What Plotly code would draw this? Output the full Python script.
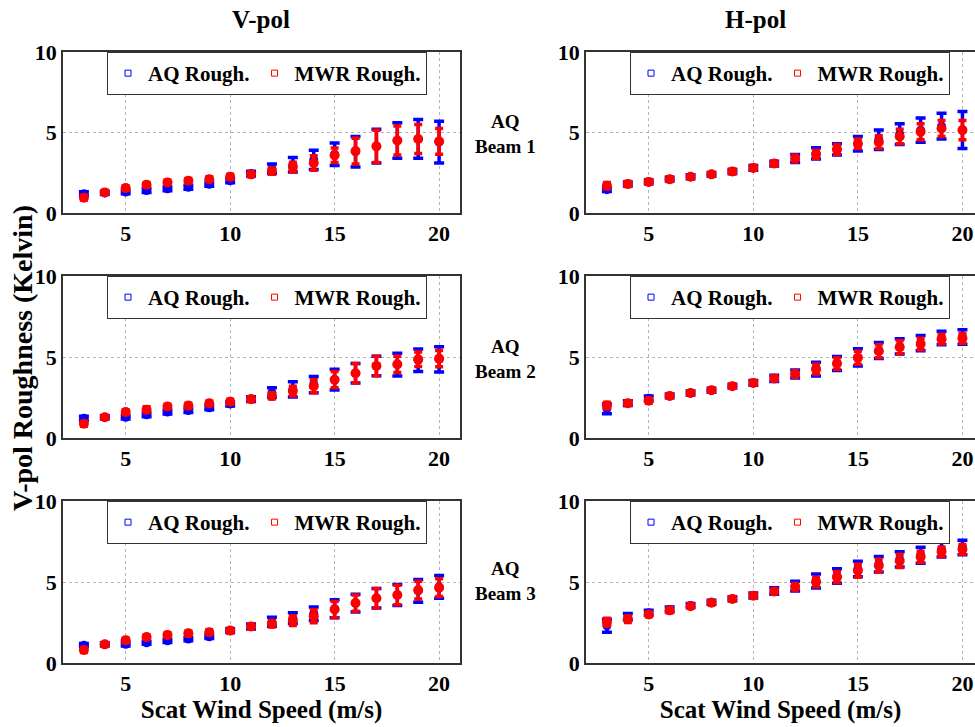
import plotly.graph_objects as go

# ---------------- data ----------------
wind_speed = [3, 4, 5, 6, 7, 8, 9, 10, 11, 12, 13, 14, 15, 16, 17, 18, 19, 20]

# V-pol, AQ Beam 1
v1_aq = [1.2, 1.25, 1.3, 1.4, 1.5, 1.6, 1.78, 2.0, 2.45, 2.75, 3.0, 3.3, 3.65, 3.8, 4.15, 4.5, 4.6, 4.4]
v1_aq_err = [0.12, 0.1, 0.1, 0.12, 0.12, 0.12, 0.12, 0.12, 0.15, 0.3, 0.45, 0.6, 0.7, 0.95, 1.05, 1.1, 1.2, 1.3]
v1_mwr = [0.95, 1.28, 1.55, 1.75, 1.9, 2.0, 2.1, 2.25, 2.4, 2.6, 2.85, 3.1, 3.58, 3.85, 4.14, 4.5, 4.6, 4.45]
v1_mwr_err = [0.15, 0.12, 0.15, 0.15, 0.15, 0.15, 0.15, 0.15, 0.15, 0.2, 0.3, 0.45, 0.45, 0.8, 1.0, 0.9, 0.9, 0.8]

# H-pol, AQ Beam 1
h1_aq = [1.45, 1.8, 1.93, 2.1, 2.25, 2.4, 2.58, 2.8, 3.07, 3.38, 3.7, 3.95, 4.3, 4.55, 4.9, 5.15, 5.4, 5.15]
h1_aq_err = [0.12, 0.12, 0.12, 0.12, 0.12, 0.12, 0.12, 0.15, 0.15, 0.25, 0.35, 0.35, 0.45, 0.6, 0.65, 0.75, 0.8, 1.15]
h1_mwr = [1.7, 1.8, 1.93, 2.1, 2.25, 2.4, 2.58, 2.8, 3.07, 3.38, 3.65, 3.95, 4.3, 4.4, 4.75, 5.05, 5.25, 5.15]
h1_mwr_err = [0.2, 0.15, 0.15, 0.15, 0.12, 0.12, 0.15, 0.15, 0.15, 0.2, 0.25, 0.3, 0.3, 0.4, 0.45, 0.5, 0.5, 0.6]

# V-pol, AQ Beam 2
v2_aq = [1.22, 1.28, 1.28, 1.43, 1.6, 1.7, 1.86, 2.1, 2.4, 2.8, 3.0, 3.3, 3.6, 4.0, 4.45, 4.53, 4.8, 4.85]
v2_aq_err = [0.12, 0.1, 0.1, 0.12, 0.12, 0.12, 0.12, 0.12, 0.15, 0.3, 0.47, 0.5, 0.64, 0.6, 0.6, 0.7, 0.7, 0.78]
v2_mwr = [0.88, 1.28, 1.6, 1.75, 1.94, 2.0, 2.14, 2.24, 2.4, 2.6, 2.9, 3.2, 3.6, 4.0, 4.45, 4.55, 4.86, 4.9]
v2_mwr_err = [0.15, 0.12, 0.15, 0.18, 0.15, 0.15, 0.15, 0.15, 0.15, 0.2, 0.3, 0.4, 0.5, 0.6, 0.6, 0.5, 0.45, 0.5]

# H-pol, AQ Beam 2
h2_aq = [1.8, 2.15, 2.45, 2.6, 2.78, 2.95, 3.2, 3.4, 3.68, 3.95, 4.25, 4.6, 4.98, 5.4, 5.66, 5.86, 6.17, 6.23]
h2_aq_err = [0.3, 0.15, 0.15, 0.12, 0.12, 0.12, 0.12, 0.15, 0.2, 0.25, 0.43, 0.43, 0.53, 0.5, 0.47, 0.47, 0.42, 0.45]
h2_mwr = [2.0, 2.15, 2.3, 2.6, 2.78, 2.95, 3.2, 3.4, 3.68, 3.95, 4.25, 4.6, 4.95, 5.35, 5.6, 5.8, 6.1, 6.15]
h2_mwr_err = [0.2, 0.15, 0.15, 0.12, 0.12, 0.12, 0.12, 0.15, 0.15, 0.2, 0.3, 0.35, 0.4, 0.4, 0.4, 0.35, 0.3, 0.3]

# V-pol, AQ Beam 3
v3_aq = [1.1, 1.15, 1.15, 1.25, 1.37, 1.48, 1.62, 2.0, 2.25, 2.55, 2.77, 3.04, 3.35, 3.7, 4.0, 4.2, 4.45, 4.7]
v3_aq_err = [0.1, 0.1, 0.1, 0.1, 0.1, 0.1, 0.1, 0.12, 0.15, 0.28, 0.33, 0.42, 0.55, 0.55, 0.6, 0.65, 0.7, 0.7]
v3_mwr = [0.8, 1.15, 1.4, 1.6, 1.73, 1.83, 1.9, 2.0, 2.25, 2.42, 2.62, 2.88, 3.3, 3.7, 4.0, 4.2, 4.5, 4.65]
v3_mwr_err = [0.15, 0.12, 0.15, 0.15, 0.15, 0.15, 0.15, 0.15, 0.15, 0.2, 0.3, 0.4, 0.5, 0.5, 0.6, 0.6, 0.55, 0.55]

# H-pol, AQ Beam 3
h3_aq = [2.3, 2.85, 3.1, 3.3, 3.55, 3.75, 3.97, 4.17, 4.44, 4.75, 5.06, 5.37, 5.8, 6.1, 6.4, 6.65, 7.0, 7.13]
h3_aq_err = [0.4, 0.2, 0.15, 0.15, 0.12, 0.12, 0.12, 0.15, 0.2, 0.3, 0.43, 0.45, 0.48, 0.48, 0.47, 0.5, 0.45, 0.45]
h3_mwr = [2.52, 2.7, 3.0, 3.25, 3.5, 3.72, 3.95, 4.15, 4.42, 4.7, 5.0, 5.3, 5.7, 6.0, 6.3, 6.55, 6.86, 7.02]
h3_mwr_err = [0.25, 0.2, 0.15, 0.15, 0.12, 0.12, 0.12, 0.15, 0.15, 0.2, 0.3, 0.35, 0.4, 0.4, 0.4, 0.35, 0.3, 0.3]

x_ticks = [5, 10, 15, 20]
y_ticks = [0, 5, 10]
series_names = ["AQ Rough.", "MWR Rough."]
column_titles = ["V-pol", "H-pol"]
row_labels = ["AQ<br>Beam 1", "AQ<br>Beam 2", "AQ<br>Beam 3"]
x_title = "Scat Wind Speed (m/s)"
y_title = "V-pol Roughness (Kelvin)"

# ---------------- layout geometry ----------------
W, H = 975, 727
FONT = "Liberation Serif, Times New Roman, serif"
BLUE = "#0000ff"
RED = "#ff0000"


def px_x(p):
    return p / W


def px_y(p):
    return 1 - p / H


rows_px = [(52, 213), (276, 438), (501, 663)]
cols_px = [(63, 460), (586, 975)]
x_ranges = [[2, 21], [2, 20.6]]

panels = [
    (0, 0, v1_aq, v1_aq_err, v1_mwr, v1_mwr_err),
    (0, 1, h1_aq, h1_aq_err, h1_mwr, h1_mwr_err),
    (1, 0, v2_aq, v2_aq_err, v2_mwr, v2_mwr_err),
    (1, 1, h2_aq, h2_aq_err, h2_mwr, h2_mwr_err),
    (2, 0, v3_aq, v3_aq_err, v3_mwr, v3_mwr_err),
    (2, 1, h3_aq, h3_aq_err, h3_mwr, h3_mwr_err),
]

fig = go.Figure()
layout = {}

for i, (r, c, aq, aq_e, mwr, mwr_e) in enumerate(panels):
    n = i + 1
    xa = "x" if n == 1 else f"x{n}"
    ya = "y" if n == 1 else f"y{n}"
    lg = "legend" if n == 1 else f"legend{n}"
    y0, y1 = rows_px[r]
    x0, x1 = cols_px[c]

    fig.add_trace(go.Scatter(
        x=wind_speed, y=aq, mode="markers", xaxis=xa, yaxis=ya,
        marker=dict(color=BLUE, size=9, symbol="circle"),
        error_y=dict(type="data", array=aq_e, color=BLUE, thickness=3.5, width=5),
        showlegend=False, hoverinfo="skip"))
    fig.add_trace(go.Scatter(
        x=wind_speed, y=mwr, mode="markers", xaxis=xa, yaxis=ya,
        marker=dict(color=RED, size=10, symbol="circle"),
        error_y=dict(type="data", array=mwr_e, color=RED, thickness=3.5, width=4),
        showlegend=False, hoverinfo="skip"))
    # legend entries
    for name, col in zip(series_names, [BLUE, RED]):
        fig.add_trace(go.Scatter(
            x=[None], y=[None], mode="markers", name=name, xaxis=xa, yaxis=ya,
            marker=dict(symbol="square-open", size=6, color=col, line=dict(width=1, color=col)),
            legend=lg, showlegend=True))

    axis_common = dict(
        showline=True, linecolor="#333333", linewidth=1.5,
        showgrid=True, gridcolor="#b5b5b5", griddash="dot", gridwidth=1,
        zeroline=False, ticks="",
        tickfont=dict(family=FONT, size=22, color="black", weight="bold"),
    )
    layout[f"xaxis{n if n > 1 else ''}"] = dict(
        axis_common, domain=[px_x(x0), min(1.0, px_x(x1))], range=x_ranges[c], tickvals=x_ticks,
        anchor=ya, mirror=True,
        title=dict(text=x_title, font=dict(family=FONT, size=25, color="black", weight="bold"), standoff=2) if r == 2 else None,
    )
    layout[f"yaxis{n if n > 1 else ''}"] = dict(
        axis_common, domain=[px_y(y1), px_y(y0)], range=[0, 10], tickvals=y_ticks,
        anchor=xa, mirror=(c == 0),
    )
    layout[lg] = dict(
        x=px_x(x0 + 44), y=px_y(y0), xanchor="left", yanchor="top",
        orientation="h", bgcolor="white", bordercolor="#333333", borderwidth=1,
        font=dict(family=FONT, size=21, color="black", weight="bold"),
        itemwidth=30, tracegroupgap=0,
    )

annotations = []
for t, xc in zip(column_titles, [261, 755]):
    annotations.append(dict(text=t, x=px_x(xc), y=px_y(19), xref="paper", yref="paper",
                            showarrow=False, xanchor="center", yanchor="middle",
                            font=dict(family=FONT, size=25, color="black", weight="bold")))
for lab, yc in zip(row_labels, [134, 359, 581]):
    annotations.append(dict(text=lab, x=px_x(505), y=px_y(yc), xref="paper", yref="paper",
                            showarrow=False, xanchor="center", yanchor="middle", align="center",
                            font=dict(family=FONT, size=19, color="black", weight="bold")))
annotations.append(dict(text=y_title, x=px_x(22), y=px_y(358), xref="paper", yref="paper",
                        showarrow=False, textangle=-90, xanchor="center", yanchor="middle",
                        font=dict(family=FONT, size=28, color="black", weight="bold")))

fig.update_layout(
    **layout,
    annotations=annotations,
    width=W, height=H,
    margin=dict(l=0, r=0, t=0, b=0, autoexpand=False),
    paper_bgcolor="white", plot_bgcolor="white",
)

fig.write_html(
    "out.html",
    config={"displayModeBar": False},
    post_script="document.body.style.margin='0';document.body.style.overflow='hidden';",
)
